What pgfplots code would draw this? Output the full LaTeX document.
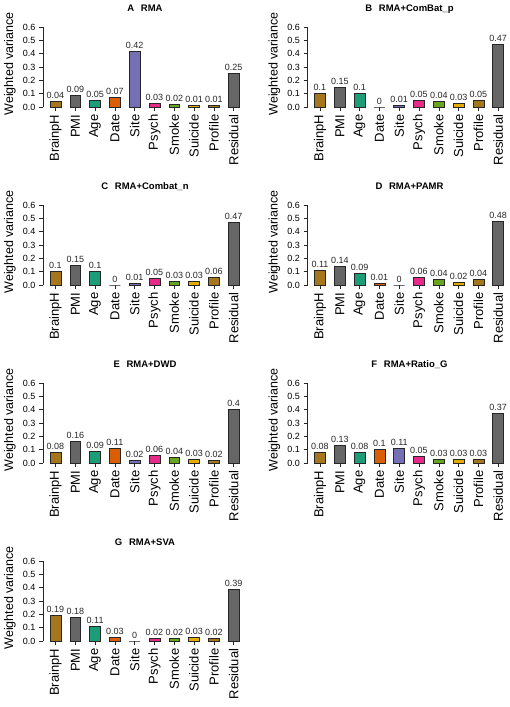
\documentclass[border=0pt]{standalone}
\usepackage{pgfplots}
\pgfplotsset{compat=1.18}
\usepackage{fontspec}
\setmainfont{Liberation Sans}
\definecolor{dA}{HTML}{A6761D}
\definecolor{dG}{HTML}{666666}
\definecolor{dT}{HTML}{1B9E77}
\definecolor{dO}{HTML}{D95F02}
\definecolor{dP}{HTML}{7570B3}
\definecolor{dM}{HTML}{E7298A}
\definecolor{dL}{HTML}{66A61E}
\definecolor{dY}{HTML}{E6AB02}
\pgfplotsset{
  panel/.style={
    scale only axis, width=196.6pt, height=80pt,
    anchor=south west,
    xmin=-0.631, xmax=9.3, ymin=0, ymax=0.6,
    axis x line*=bottom, axis y line*=left,
    x axis line style={draw=none},
    y axis line style={-, black!85, line width=0.5pt},
    tick align=outside, major tick length=4pt,
    tick style={black!85, line width=0.5pt},
    xtick={0,1,2,3,4,5,6,7,8,9},
    xticklabels={BrainpH,PMI,Age,Date,Site,Psych,Smoke,Suicide,Profile,Residual},
    xticklabel style={rotate=90, anchor=east, font=\fontsize{13}{13}\selectfont, inner sep=0.5pt},
    xticklabel shift=3pt,
    ytick={0,0.1,0.2,0.3,0.4,0.5,0.6},
    yticklabel style={font=\fontsize{9}{9}\selectfont, /pgf/number format/.cd, fixed, fixed zerofill, precision=1},
    /pgf/number format/assume math mode=true,
    every axis y label/.style={at={(axis description cs:-0.168,0.54)}, rotate=90, anchor=center},
    ylabel={Weighted variance},
    ylabel style={font=\fontsize{12.5}{12.5}\selectfont},
    every axis title/.style={at={(axis description cs:0.5,1)}, anchor=base, yshift=16pt, xshift=3.7pt, font=\bfseries\fontsize{9.5}{9.5}\selectfont},
    clip=false,
  },
  vbar/.style={
    ybar, bar width=0.55, bar shift=0pt, draw=black!85, line width=0.5pt,
    nodes near coords={\pgfmathprintnumber[fixed,precision=2,assume math mode=true]{\pgfplotspointmeta}},
    every node near coord/.append style={font=\fontsize{9}{9}\selectfont, text=black!85, inner sep=2.5pt},
  },
}
\begin{document}
\begin{tikzpicture}
\useasboundingbox (0,0) rectangle (510pt,-707pt);
% A
\begin{axis}[panel, at={(43pt,-107pt)}, title={A\hspace{0.7em}RMA}]
\addplot[vbar, fill=dA] coordinates {(0,0.04)};
\addplot[vbar, fill=dG] coordinates {(1,0.09)};
\addplot[vbar, fill=dT] coordinates {(2,0.05)};
\addplot[vbar, fill=dO] coordinates {(3,0.07)};
\addplot[vbar, fill=dP] coordinates {(4,0.42)};
\addplot[vbar, fill=dM] coordinates {(5,0.03)};
\addplot[vbar, fill=dL] coordinates {(6,0.02)};
\addplot[vbar, fill=dY] coordinates {(7,0.01)};
\addplot[vbar, fill=dA] coordinates {(8,0.01)};
\addplot[vbar, fill=dG] coordinates {(9,0.25)};
\end{axis}
% B
\begin{axis}[panel, at={(307.5pt,-107pt)}, title={B\hspace{0.7em}RMA+ComBat\_p}]
\addplot[vbar, fill=dA] coordinates {(0,0.1)};
\addplot[vbar, fill=dG] coordinates {(1,0.15)};
\addplot[vbar, fill=dT] coordinates {(2,0.1)};
\addplot[vbar, fill=dO] coordinates {(3,0)};
\addplot[vbar, fill=dP] coordinates {(4,0.01)};
\addplot[vbar, fill=dM] coordinates {(5,0.05)};
\addplot[vbar, fill=dL] coordinates {(6,0.04)};
\addplot[vbar, fill=dY] coordinates {(7,0.03)};
\addplot[vbar, fill=dA] coordinates {(8,0.05)};
\addplot[vbar, fill=dG] coordinates {(9,0.47)};
\end{axis}
% C
\begin{axis}[panel, at={(43pt,-285pt)}, title={C\hspace{0.7em}RMA+Combat\_n}]
\addplot[vbar, fill=dA] coordinates {(0,0.1)};
\addplot[vbar, fill=dG] coordinates {(1,0.15)};
\addplot[vbar, fill=dT] coordinates {(2,0.1)};
\addplot[vbar, fill=dO] coordinates {(3,0)};
\addplot[vbar, fill=dP] coordinates {(4,0.01)};
\addplot[vbar, fill=dM] coordinates {(5,0.05)};
\addplot[vbar, fill=dL] coordinates {(6,0.03)};
\addplot[vbar, fill=dY] coordinates {(7,0.03)};
\addplot[vbar, fill=dA] coordinates {(8,0.06)};
\addplot[vbar, fill=dG] coordinates {(9,0.47)};
\end{axis}
% D
\begin{axis}[panel, at={(307.5pt,-285pt)}, title={D\hspace{0.7em}RMA+PAMR}]
\addplot[vbar, fill=dA] coordinates {(0,0.11)};
\addplot[vbar, fill=dG] coordinates {(1,0.14)};
\addplot[vbar, fill=dT] coordinates {(2,0.09)};
\addplot[vbar, fill=dO] coordinates {(3,0.01)};
\addplot[vbar, fill=dP] coordinates {(4,0)};
\addplot[vbar, fill=dM] coordinates {(5,0.06)};
\addplot[vbar, fill=dL] coordinates {(6,0.04)};
\addplot[vbar, fill=dY] coordinates {(7,0.02)};
\addplot[vbar, fill=dA] coordinates {(8,0.04)};
\addplot[vbar, fill=dG] coordinates {(9,0.48)};
\end{axis}
% E
\begin{axis}[panel, at={(43pt,-463pt)}, title={E\hspace{0.7em}RMA+DWD}]
\addplot[vbar, fill=dA] coordinates {(0,0.08)};
\addplot[vbar, fill=dG] coordinates {(1,0.16)};
\addplot[vbar, fill=dT] coordinates {(2,0.09)};
\addplot[vbar, fill=dO] coordinates {(3,0.11)};
\addplot[vbar, fill=dP] coordinates {(4,0.02)};
\addplot[vbar, fill=dM] coordinates {(5,0.06)};
\addplot[vbar, fill=dL] coordinates {(6,0.04)};
\addplot[vbar, fill=dY] coordinates {(7,0.03)};
\addplot[vbar, fill=dA] coordinates {(8,0.02)};
\addplot[vbar, fill=dG] coordinates {(9,0.4)};
\end{axis}
% F
\begin{axis}[panel, at={(307.5pt,-463pt)}, title={F\hspace{0.7em}RMA+Ratio\_G}]
\addplot[vbar, fill=dA] coordinates {(0,0.08)};
\addplot[vbar, fill=dG] coordinates {(1,0.13)};
\addplot[vbar, fill=dT] coordinates {(2,0.08)};
\addplot[vbar, fill=dO] coordinates {(3,0.1)};
\addplot[vbar, fill=dP] coordinates {(4,0.11)};
\addplot[vbar, fill=dM] coordinates {(5,0.05)};
\addplot[vbar, fill=dL] coordinates {(6,0.03)};
\addplot[vbar, fill=dY] coordinates {(7,0.03)};
\addplot[vbar, fill=dA] coordinates {(8,0.03)};
\addplot[vbar, fill=dG] coordinates {(9,0.37)};
\end{axis}
% G
\begin{axis}[panel, at={(43pt,-641pt)}, title={G\hspace{0.7em}RMA+SVA}]
\addplot[vbar, fill=dA] coordinates {(0,0.19)};
\addplot[vbar, fill=dG] coordinates {(1,0.18)};
\addplot[vbar, fill=dT] coordinates {(2,0.11)};
\addplot[vbar, fill=dO] coordinates {(3,0.03)};
\addplot[vbar, fill=dP] coordinates {(4,0)};
\addplot[vbar, fill=dM] coordinates {(5,0.02)};
\addplot[vbar, fill=dL] coordinates {(6,0.02)};
\addplot[vbar, fill=dY] coordinates {(7,0.03)};
\addplot[vbar, fill=dA] coordinates {(8,0.02)};
\addplot[vbar, fill=dG] coordinates {(9,0.39)};
\end{axis}
\end{tikzpicture}
\end{document}
